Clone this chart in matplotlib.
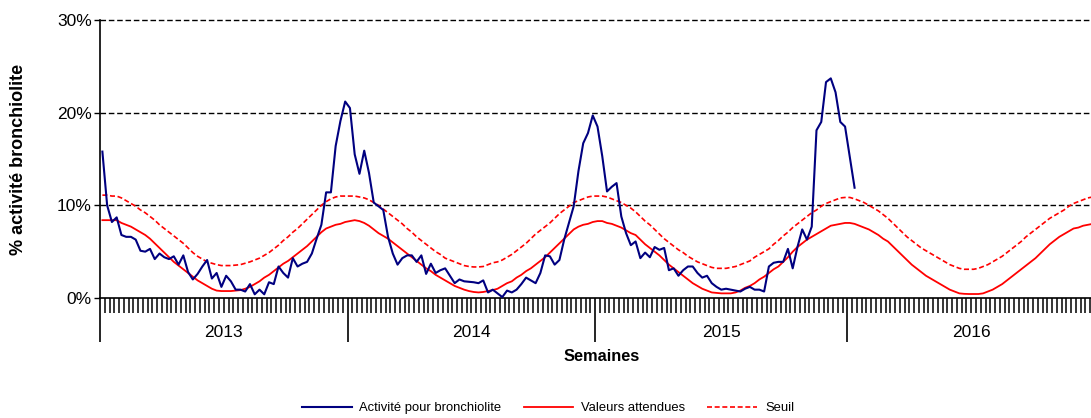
import numpy as np
import matplotlib
matplotlib.use("Agg")
import matplotlib.pyplot as plt
from matplotlib.ticker import FixedLocator, NullFormatter, FuncFormatter

plt.rcParams["font.family"] = ["Liberation Sans", "DejaVu Sans"]

# weeks per year (2015 has 53 ISO weeks)
years = ["2013", "2014", "2015", "2016"]
weeks_per_year = [52, 52, 53, 52]

# % activité bronchiolite, weekly, from week 1 2013 to week 2 2016
activity = [
    15.8, 10.0, 8.2, 8.7, 6.8, 6.6, 6.6, 6.3, 5.1, 5.0,
    5.3, 4.2, 4.8, 4.4, 4.2, 4.5, 3.6, 4.6, 2.8, 2.0,
    2.6, 3.4, 4.1, 2.1, 2.7, 1.2, 2.4, 1.8, 0.9, 0.9,
    0.7, 1.5, 0.4, 0.9, 0.4, 1.7, 1.5, 3.4, 2.7, 2.2,
    4.3, 3.4, 3.7, 3.9, 4.8, 6.4, 7.9, 11.4, 11.4, 16.4,
    19.1, 21.2,
    20.5, 15.5, 13.4, 15.9, 13.5, 10.3, 9.9, 9.5, 6.6, 4.8,
    3.6, 4.3, 4.6, 4.6, 3.9, 4.6, 2.6, 3.7, 2.7, 3.0,
    3.2, 2.4, 1.6, 2.0, 1.8, 1.75, 1.7, 1.6, 1.9, 0.6,
    0.9, 0.5, 0.1, 0.8, 0.6, 0.9, 1.5, 2.2, 1.9, 1.6,
    2.7, 4.6, 4.5, 3.6, 4.1, 6.3, 8.1, 9.9, 13.7, 16.7,
    17.8, 19.7,
    18.5, 15.3, 11.5, 12.0, 12.4, 8.8, 7.0, 5.7, 6.1, 4.3,
    4.9, 4.4, 5.5, 5.2, 5.4, 3.0, 3.2, 2.4, 3.0, 3.4,
    3.4, 2.7, 2.2, 2.4, 1.6, 1.2, 0.9, 1.0, 0.9, 0.8,
    0.7, 1.0, 1.2, 0.9, 0.9, 0.7, 3.4, 3.8, 3.9, 3.9,
    5.3, 3.2, 5.5, 7.4, 6.3, 7.7, 18.1, 19.0, 23.3, 23.7,
    22.2, 19.0, 18.5,
    15.2, 11.9,
]

# Valeurs attendues, weekly 2013-2016
expected = [
    # 2013
    8.4, 8.4, 8.4, 8.4, 8.1, 7.9, 7.7, 7.4, 7.1, 6.8,
    6.4, 5.9, 5.4, 4.9, 4.4, 3.9, 3.5, 3.1, 2.7, 2.3,
    1.9, 1.6, 1.3, 1.0, 0.8, 0.75, 0.75, 0.75, 0.8, 0.85,
    1.0, 1.2, 1.5, 1.8, 2.2, 2.5, 2.9, 3.3, 3.7, 4.0,
    4.4, 4.8, 5.2, 5.6, 6.1, 6.6, 7.1, 7.5, 7.7, 7.9,
    8.0, 8.2,
    # 2014
    8.3, 8.4, 8.3, 8.1, 7.8, 7.4, 7.0, 6.7, 6.4, 6.0,
    5.6, 5.2, 4.8, 4.4, 4.0, 3.6, 3.2, 2.9, 2.5, 2.2,
    1.9, 1.6, 1.3, 1.1, 0.9, 0.75, 0.65, 0.6, 0.65, 0.75,
    0.85, 1.0, 1.3, 1.6, 1.8, 2.2, 2.5, 2.9, 3.2, 3.6,
    4.0, 4.4, 4.9, 5.4, 5.9, 6.4, 6.9, 7.4, 7.7, 7.9,
    8.0, 8.2,
    # 2015
    8.3, 8.3, 8.1, 8.0, 7.8, 7.6, 7.3, 7.0, 6.8, 6.3,
    5.8, 5.4, 5.0, 4.6, 4.1, 3.6, 3.2, 2.8, 2.4, 2.0,
    1.6, 1.3, 1.0, 0.8, 0.6, 0.55, 0.5, 0.5, 0.5, 0.6,
    0.8, 1.1, 1.3, 1.6, 2.0, 2.3, 2.7, 3.1, 3.4, 3.9,
    4.4, 5.0, 5.5, 5.9, 6.3, 6.6, 6.9, 7.2, 7.5, 7.8,
    7.9, 8.0, 8.1,
    # 2016
    8.1, 8.0, 7.8, 7.6, 7.4, 7.1, 6.8, 6.4, 6.1, 5.6,
    5.1, 4.6, 4.1, 3.6, 3.2, 2.8, 2.4, 2.1, 1.8, 1.5,
    1.2, 0.9, 0.7, 0.5, 0.45, 0.43, 0.43, 0.43, 0.5, 0.7,
    0.9, 1.2, 1.5, 1.9, 2.3, 2.7, 3.1, 3.5, 3.9, 4.3,
    4.8, 5.3, 5.8, 6.2, 6.6, 6.9, 7.2, 7.5, 7.6, 7.8,
    7.9, 8.0,
]

# Seuil, weekly 2013-2016
threshold = [
    # 2013
    11.1, 11.1, 11.0, 11.0, 10.8, 10.5, 10.2, 9.9, 9.5, 9.2,
    8.8, 8.4, 7.9, 7.5, 7.1, 6.7, 6.3, 5.9, 5.4, 4.9,
    4.5, 4.2, 3.9, 3.75, 3.6, 3.5, 3.5, 3.5, 3.55, 3.6,
    3.75, 3.9, 4.1, 4.3, 4.6, 4.9, 5.3, 5.7, 6.2, 6.6,
    7.1, 7.5, 8.0, 8.5, 9.0, 9.5, 10.0, 10.4, 10.7, 10.9,
    11.0, 11.0,
    # 2014
    11.0, 11.0, 10.9, 10.8, 10.6, 10.3, 10.0, 9.6, 9.2, 8.8,
    8.4, 8.0, 7.5, 7.1, 6.6, 6.2, 5.8, 5.4, 5.0, 4.7,
    4.3, 4.1, 3.9, 3.7, 3.5, 3.4, 3.35, 3.35, 3.4, 3.6,
    3.8, 3.9, 4.1, 4.4, 4.7, 5.1, 5.5, 5.9, 6.4, 6.9,
    7.3, 7.7, 8.1, 8.6, 9.1, 9.5, 9.9, 10.3, 10.5, 10.7,
    10.9, 11.0,
    # 2015
    11.0, 11.0, 10.9, 10.7, 10.5, 10.3, 10.0, 9.7, 9.3, 8.8,
    8.3, 7.9, 7.4, 6.9, 6.4, 6.0, 5.6, 5.2, 4.9, 4.5,
    4.2, 3.9, 3.7, 3.5, 3.3, 3.2, 3.2, 3.2, 3.3, 3.4,
    3.6, 3.8, 4.0, 4.4, 4.7, 5.0, 5.3, 5.8, 6.2, 6.7,
    7.1, 7.6, 8.0, 8.4, 8.8, 9.2, 9.5, 9.9, 10.2, 10.4,
    10.6, 10.8, 10.85,
    # 2016
    10.85, 10.7, 10.5, 10.3, 10.0, 9.7, 9.4, 9.0, 8.6, 8.1,
    7.6, 7.1, 6.6, 6.2, 5.8, 5.4, 5.1, 4.8, 4.5, 4.2,
    3.9, 3.6, 3.4, 3.2, 3.1, 3.1, 3.1, 3.2, 3.4, 3.6,
    3.9, 4.2, 4.5, 4.9, 5.3, 5.7, 6.1, 6.6, 7.0, 7.4,
    7.8, 8.2, 8.6, 8.9, 9.2, 9.5, 9.9, 10.2, 10.4, 10.6,
    10.8, 10.9,
]

y_ticks = [0, 10, 20, 30]

n_weeks = sum(weeks_per_year)
x_all = np.arange(n_weeks)
x_act = np.arange(len(activity))

W, H = 1091, 418
fig = plt.figure(figsize=(W / 100, H / 100), dpi=100)
# axes runs a few pixels past the right edge, like the source chart
ax = fig.add_axes([100 / W, 1 - 298 / H, 995 / W, 278 / H])

ax.plot(x_act, activity, color="#000080", linewidth=1.5, label="Activité pour bronchiolite", zorder=4)
ax.plot(x_all, expected, color="#FF0000", linewidth=1.3, label="Valeurs attendues", zorder=3)
ax.plot(x_all, threshold, color="#FF0000", linewidth=1.2, linestyle=(0, (3, 1.6)), label="Seuil", zorder=3)

ax.set_xlim(-0.5, n_weeks - 0.5)
ax.set_ylim(0, 30)

# gridlines
for v in y_ticks[1:]:
    ax.axhline(v, color="black", linewidth=1, linestyle=(0, (4, 2)), zorder=1, clip_on=False)

for s in ["top", "right"]:
    ax.spines[s].set_visible(False)
ax.spines["left"].set_linewidth(1.2)
ax.spines["bottom"].set_linewidth(1.2)

# y axis
ax.set_yticks(y_ticks)
ax.yaxis.set_major_formatter(FuncFormatter(lambda v, p: f"{v:.0f}%"))
ax.tick_params(axis="y", length=4.3, width=1, labelsize=12.5, pad=1.5)

# x axis: long ticks at year boundaries, short tick per week
bounds = np.concatenate([[0], np.cumsum(weeks_per_year)]) - 0.5
ax.xaxis.set_major_locator(FixedLocator(bounds))
ax.xaxis.set_major_formatter(NullFormatter())
ax.xaxis.set_minor_locator(FixedLocator(np.arange(n_weeks + 1) - 0.5))
ax.tick_params(axis="x", which="major", direction="out", length=32, width=1.2)
ax.tick_params(axis="x", which="minor", direction="out", length=11, width=1.1)

for i, yr in enumerate(years):
    mid = (bounds[i] + bounds[i + 1]) / 2
    ax.annotate(yr, xy=(mid, 0), xycoords=("data", "axes fraction"),
                xytext=(0, -24.5), textcoords="offset points",
                ha="center", va="center", fontsize=12.5, annotation_clip=False)

ax.set_xlabel("Semaines", fontsize=11.8, fontweight="bold")
ax.set_ylabel("% activité bronchiolite", fontsize=13, fontweight="bold")
ax.xaxis.set_label_coords((602 - 100) / 995, -(349 - 298) / 278)
ax.yaxis.set_label_coords(-(100 - 27) / 995, 0.5)

fig.legend(loc="center", bbox_to_anchor=(548 / W, 1 - 408 / H), ncol=3, frameon=False,
           fontsize=9.4, handlelength=3.8, columnspacing=1.7, handletextpad=0.6)

fig.savefig("out.png", dpi=100)
